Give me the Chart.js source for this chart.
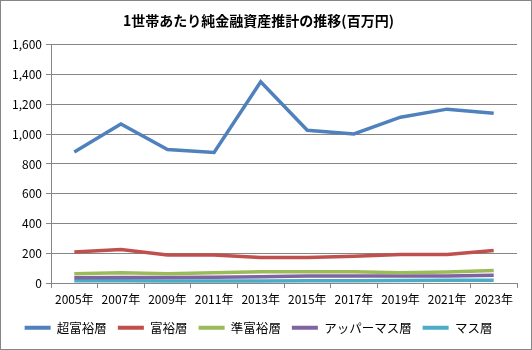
<!DOCTYPE html>
<html>
<head>
<meta charset="utf-8">
<script src="https://cdn.jsdelivr.net/npm/chart.js@4/dist/chart.umd.min.js"></script>
<style>
  html, body { margin: 0; padding: 0; background: #fff; }
  #wrap { width: 532px; height: 350px; }
</style>
</head>
<body>
<div id="wrap"><canvas id="assetChart" width="532" height="350"></canvas></div>
<script>
// 年次ラベルと各層の1世帯あたり純金融資産(百万円)
const years = ['2005年', '2007年', '2009年', '2011年', '2013年', '2015年', '2017年', '2019年', '2021年', '2023年'];
const superRich = [881, 1068, 897, 877, 1351, 1026, 1001, 1114, 1168, 1141];
const rich = [208, 226, 188, 188, 172, 172, 181, 192, 192, 219];
const semiRich = [63, 70, 63, 70, 77, 77, 77, 70, 74, 84];
const upperMass = [36, 38, 38, 39, 43, 47, 47, 47, 48, 53];
const mass = [15, 15, 14, 14, 14, 15, 16, 18, 19, 19];
const seriesNames = ['超富裕層', '富裕層', '準富裕層', 'アッパーマス層', 'マス層'];
const seriesColors = ['#4F81BD', '#C0504D', '#9BBB59', '#8064A2', '#4BACC6'];
const yTicks = [0, 200, 400, 600, 800, 1000, 1200, 1400, 1600];

const jpFont = '"Noto Sans CJK JP", "Noto Sans", sans-serif';
const seriesData = [superRich, rich, semiRich, upperMass, mass];

// 白背景と外枠
const frame = {
    id: 'frame',
    beforeDraw(chart) {
        const ctx = chart.ctx;
        ctx.save();
        ctx.fillStyle = '#fff';
        ctx.fillRect(0, 0, chart.width, chart.height);
        ctx.restore();
    },
    afterDraw(chart) {
        const ctx = chart.ctx;
        ctx.save();
        ctx.strokeStyle = '#868686';
        ctx.lineWidth = 1;
        ctx.strokeRect(0.5, 0.5, chart.width - 1, chart.height - 1);
        ctx.restore();
    }
};

const ctx = document.getElementById('assetChart').getContext('2d');

new Chart(ctx, {
    type: 'line',
    data: {
        labels: years,
        datasets: seriesData.map((d, i) => ({
            label: seriesNames[i],
            data: d,
            borderColor: seriesColors[i],
            backgroundColor: seriesColors[i],
            borderWidth: 3.5,
            pointRadius: 0,
            tension: 0,
            fill: false
        }))
    },
    options: {
        responsive: false,
        animation: false,
        layout: { padding: { left: 0, right: 15, top: 0, bottom: 6 } },
        plugins: {
            title: {
                display: true,
                text: '1世帯あたり純金融資産推計の推移(百万円)',
                color: '#000',
                font: { family: jpFont, size: 14, weight: 'bold' },
                padding: { top: 12, bottom: 16 }
            },
            legend: {
                position: 'bottom',
                labels: {
                    color: '#000',
                    font: { family: jpFont, size: 12.5 },
                    boxWidth: 26,
                    boxHeight: 4,
                    padding: 11,
                    generateLabels(chart) {
                        return Chart.defaults.plugins.legend.labels.generateLabels(chart).map(item => ({
                            ...item,
                            fillStyle: item.strokeStyle,
                            lineWidth: 0
                        }));
                    }
                }
            },
            tooltip: { enabled: false }
        },
        scales: {
            x: {
                offset: true,
                grid: {
                    offset: true,
                    drawOnChartArea: false,
                    drawTicks: true,
                    tickLength: 5,
                    color: '#868686'
                },
                border: { color: '#868686' },
                ticks: {
                    color: '#000',
                    font: { family: jpFont, size: 12 },
                    autoSkip: false,
                    maxRotation: 0,
                    padding: 4
                }
            },
            y: {
                min: 0,
                max: 1600,
                afterBuildTicks(scale) {
                    scale.ticks = yTicks.map(v => ({ value: v }));
                },
                afterFit(scale) {
                    scale.width = 51;
                },
                grid: {
                    color: '#868686',
                    tickLength: 5
                },
                border: { color: '#868686' },
                ticks: {
                    color: '#000',
                    font: { family: jpFont, size: 12 },
                    padding: 4,
                    callback: v => v.toLocaleString('en-US')
                }
            }
        }
    },
    plugins: [frame]
});
</script>
</body>
</html>
